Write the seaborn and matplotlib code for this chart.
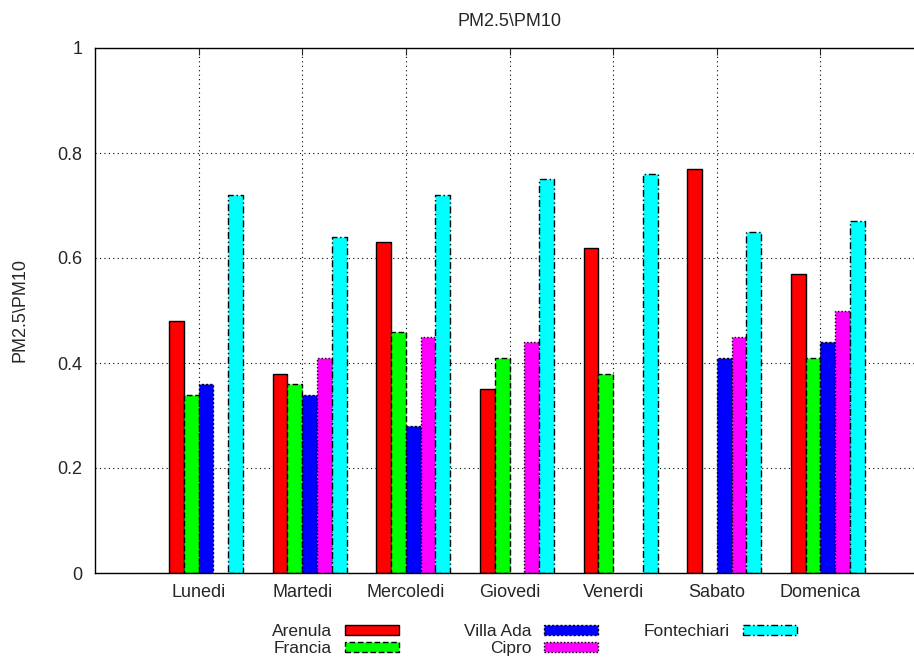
import matplotlib
matplotlib.use("Agg")
import matplotlib.pyplot as plt
import seaborn as sns
import numpy as np
import pandas as pd

# dati (nan = barra assente)
giorni = ["Lunedi", "Martedi", "Mercoledi", "Giovedi", "Venerdi", "Sabato", "Domenica"]
stazioni = ["Arenula", "Francia", "Villa Ada", "Cipro", "Fontechiari"]

arenula = [0.48, 0.38, 0.63, 0.35, 0.62, 0.77, 0.57]
francia = [0.34, 0.36, 0.46, 0.41, 0.38, np.nan, 0.41]
villa_ada = [0.36, 0.34, 0.28, np.nan, np.nan, 0.41, 0.44]
cipro = [np.nan, 0.41, 0.45, 0.44, np.nan, 0.45, 0.50]
fontechiari = [0.72, 0.64, 0.72, 0.75, 0.76, 0.65, 0.67]

y_ticks = [0, 0.2, 0.4, 0.6, 0.8, 1]
y_labels = ["0", "0.2", "0.4", "0.6", "0.8", "1"]

colori = ["#ff0000", "#00ff00", "#0000ff", "#ff00ff", "#00ffff"]
stili = ["-", (0, (4, 2)), (0, (1.5, 1.5)), (0, (1, 1.5)), (0, (5, 2, 1, 2))]

serie = [arenula, francia, villa_ada, cipro, fontechiari]
df = pd.DataFrame({
    "giorno": np.repeat(giorni, len(stazioni)),
    "stazione": stazioni * len(giorni),
    "valore": np.array(serie).T.ravel(),
})

sns.set_style("white")
plt.rcParams["font.family"] = ["Liberation Sans", "DejaVu Sans"]
FS = 13

fig = plt.figure(figsize=(9.14, 6.57), dpi=100)
ax = fig.add_axes([95 / 914, 1 - 573 / 657, (924 - 95) / 914, (573 - 48) / 657])

sns.barplot(data=df, x="giorno", y="valore", hue="stazione", order=giorni,
            hue_order=stazioni, palette=colori, width=5 / 7, saturation=1,
            edgecolor="black", linewidth=1, errorbar=None, ax=ax)

for cont, ls in zip(ax.containers, stili):
    for bar in cont:
        bar.set_linestyle(ls)

# in gnuplot il tick sta sul bordo sinistro della terza barra
off = 1 / 14
pos = np.arange(len(giorni)) - off
ax.set_xticks(pos)
ax.set_xticklabels(giorni, fontsize=FS)
ax.set_xlim(-1 - off, len(giorni) - off)
ax.set_ylim(0, 1)
ax.set_yticks(y_ticks)
ax.set_yticklabels(y_labels, fontsize=FS)

ax.set_axisbelow(True)
ax.grid(True, color="black", linestyle=(0, (1, 3)), linewidth=0.8)
ax.tick_params(axis="x", direction="in", top=True, length=5, width=0.8, pad=8)
ax.tick_params(axis="y", direction="in", right=True, length=5, width=0.8, pad=9)
for s in ax.spines.values():
    s.set_color("black")
    s.set_linewidth(1)

ax.set_xlabel("")
ax.set_ylabel("PM2.5\\PM10", fontsize=FS, labelpad=21)
ax.set_title("PM2.5\\PM10", fontsize=FS, pad=16)

# legenda in stile gnuplot: tre colonne, testo allineato a destra, campione a destra
handles, labels = ax.get_legend_handles_labels()
ax.get_legend().remove()
for h, ls in zip(handles, stili):
    h.set_linestyle(ls)

colonne = [(0, 2, 399), (2, 4, 598), (4, 5, 797)]
for i0, i1, xr in colonne:
    fig.legend(handles[i0:i1], labels[i0:i1], markerfirst=False, frameon=False,
               loc="upper right", bbox_to_anchor=(xr / 914, 1 - 624 / 657),
               fontsize=12.5, handlelength=3.1, handleheight=0.46,
               handletextpad=0.75, labelspacing=0.12, borderpad=0,
               borderaxespad=0)

fig.savefig("out.png", dpi=100)
